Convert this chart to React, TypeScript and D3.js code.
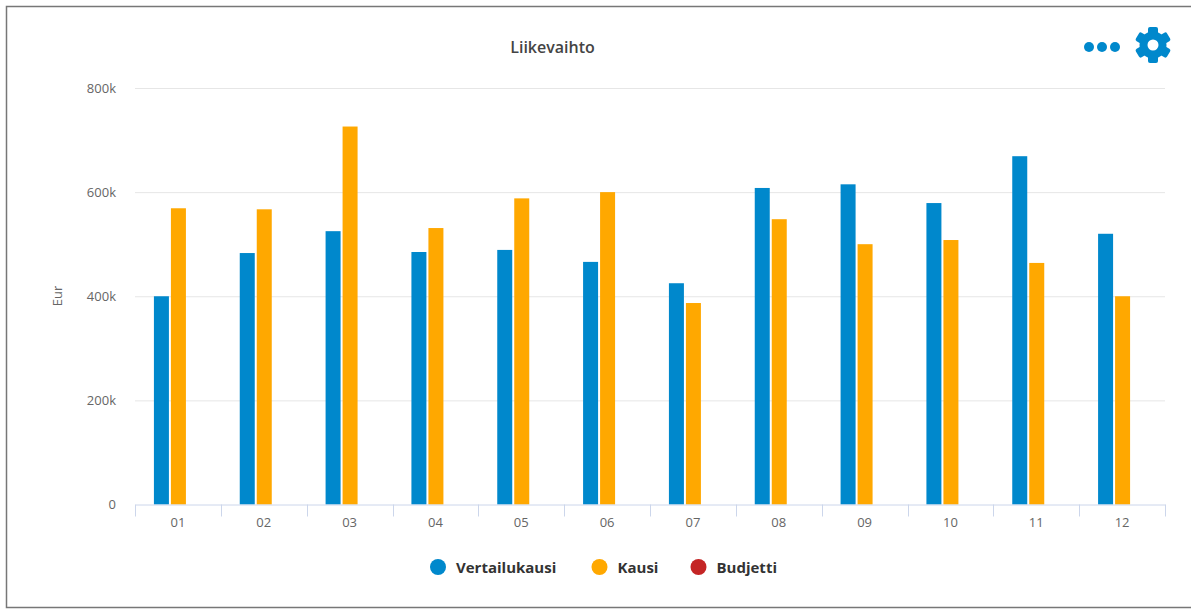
import { useEffect, useRef } from 'react';
import * as d3 from 'd3';

const months = ['01', '02', '03', '04', '05', '06', '07', '08', '09', '10', '11', '12'];
const vertailukausi = [400, 483, 525, 485, 489, 466, 425, 608, 615, 579, 669, 520];
const kausi = [569, 567, 726, 531, 588, 600, 387, 548, 500, 508, 464, 400];
const yTicks = [0, 200, 400, 600, 800];
const legendItems = ['Vertailukausi', 'Kausi', 'Budjetti'];

const BLUE = '#0088cc';
const ORANGE = '#ffa800';
const RED = '#c42525';
const FONT = '"Open Sans", sans-serif';

const App = () => {
  const ref = useRef<SVGSVGElement>(null);

  useEffect(() => {
    const svg = d3.select(ref.current);
    svg.selectAll('*').remove();

    const width = 1191;
    const height = 609;

    svg.append('rect').attr('width', width).attr('height', height).attr('fill', '#fff');

    // Outer frame, open on the right side
    svg.append('path')
      .attr('d', `M${width},6.5H6.5V607.5H${width}`)
      .attr('fill', 'none')
      .attr('stroke', '#777')
      .attr('stroke-width', 1.5);

    const x = d3.scaleBand().domain(months).range([135, 1165]);
    const y = d3.scaleLinear().domain([0, 800]).range([504.5, 88]);

    // Gridlines and y labels
    const yAxis = svg.append('g')
      .attr('transform', 'translate(135,0)')
      .call(d3.axisLeft(y).tickValues(yTicks).tickSize(0).tickPadding(19)
        .tickFormat((d) => (+d === 0 ? '0' : `${d}k`)));
    yAxis.select('.domain').remove();
    yAxis.selectAll('text')
      .attr('fill', '#666')
      .style('font-family', FONT)
      .style('font-size', '13px');
    yAxis.selectAll('.tick line')
      .attr('x2', 1030)
      .attr('stroke', (d) => (+d === 0 ? 'none' : '#e6e6e6'));

    // Bars
    const barWidth = 15;
    const drawBars = (values: number[], color: string, offset: number) => {
      svg.append('g')
        .selectAll('rect')
        .data(values)
        .join('rect')
        .attr('x', (_, i) => x(months[i])! + x.bandwidth() / 2 + offset)
        .attr('y', (d) => y(d))
        .attr('width', barWidth)
        .attr('height', (d) => y(0) - y(d))
        .attr('fill', color);
    };
    drawBars(vertailukausi, BLUE, -24);
    drawBars(kausi, ORANGE, -7);

    // X axis, ticks sit between the bands
    const xAxis = svg.append('g')
      .attr('transform', 'translate(0,504.5)')
      .call(d3.axisBottom(x).tickSize(0).tickSizeOuter(0).tickPadding(13));
    xAxis.select('.domain').attr('stroke', '#ccd6eb');
    xAxis.selectAll('.tick line').remove();
    xAxis.selectAll('text')
      .attr('fill', '#666')
      .style('font-family', FONT)
      .style('font-size', '13px');
    xAxis.append('g')
      .selectAll('line')
      .data([...months.map((m) => x(m)!), x.range()[1]])
      .join('line')
      .attr('x1', (d) => Math.round(d) + 0.5)
      .attr('x2', (d) => Math.round(d) + 0.5)
      .attr('y1', 0)
      .attr('y2', 12)
      .attr('stroke', '#ccd6eb');

    // Title and axis title
    svg.append('text')
      .attr('x', 552.5)
      .attr('y', 53)
      .attr('text-anchor', 'middle')
      .attr('fill', '#444')
      .style('font-family', FONT)
      .style('font-size', '16px')
      .style('font-weight', 600)
      .text('Liikevaihto');

    svg.append('text')
      .attr('transform', 'translate(62,296) rotate(-90)')
      .attr('text-anchor', 'middle')
      .attr('fill', '#666')
      .style('font-family', FONT)
      .style('font-size', '13px')
      .text('Eur');

    // Legend
    const legendColors = [BLUE, ORANGE, RED];
    const legendDotX = [438, 599.5, 698.5];
    const legend = svg.append('g')
      .selectAll('g')
      .data(legendItems)
      .join('g')
      .attr('transform', (_, i) => `translate(${legendDotX[i]},567)`);
    legend.append('circle')
      .attr('r', 8)
      .attr('fill', (_, i) => legendColors[i]);
    legend.append('text')
      .attr('x', 18)
      .attr('y', 5.5)
      .attr('fill', '#333')
      .style('font-family', FONT)
      .style('font-size', '15px')
      .style('font-weight', 700)
      .text((d) => d);

    // Menu dots
    svg.append('g')
      .selectAll('circle')
      .data([1089, 1102, 1115])
      .join('circle')
      .attr('cx', (d) => d)
      .attr('cy', 47)
      .attr('r', 5)
      .attr('fill', BLUE);

    // Settings gear
    const gear = svg.append('g').attr('transform', 'translate(1153,45)');
    d3.range(6).forEach((i) => {
      gear.append('rect')
        .attr('x', -5)
        .attr('y', -18)
        .attr('width', 10)
        .attr('height', 9)
        .attr('rx', 2)
        .attr('fill', BLUE)
        .attr('transform', `rotate(${i * 60})`);
    });
    gear.append('circle')
      .attr('r', 9.5)
      .attr('fill', 'none')
      .attr('stroke', BLUE)
      .attr('stroke-width', 8);
  }, []);

  return (
    <svg
      ref={ref}
      width={1191}
      height={609}
      style={{ position: 'absolute', left: 0, top: 0, display: 'block' }}
    />
  );
};

export default App;
